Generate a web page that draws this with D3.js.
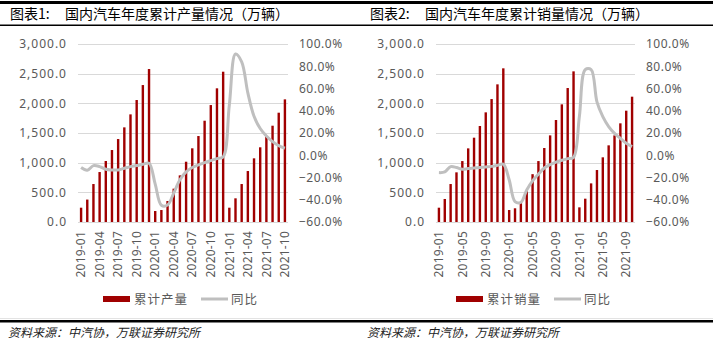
<!DOCTYPE html>
<html>
<head>
<meta charset="utf-8">
<script src="https://cdn.jsdelivr.net/npm/d3@7"></script>
<style>
body { margin: 0; background: #fff; }
svg { display: block; font-family: "Noto Sans", "Noto Sans CJK SC", sans-serif; }
</style>
</head>
<body>
<svg id="canvas" width="713" height="354"></svg>
<script>
// categories, 2019-01 .. 2021-10
var months = [
  "2019-01","2019-02","2019-03","2019-04","2019-05","2019-06","2019-07","2019-08","2019-09","2019-10","2019-11","2019-12",
  "2020-01","2020-02","2020-03","2020-04","2020-05","2020-06","2020-07","2020-08","2020-09","2020-10","2020-11","2020-12",
  "2021-01","2021-02","2021-03","2021-04","2021-05","2021-06","2021-07","2021-08","2021-09","2021-10"
];

// 累计产量 (万辆) and 同比 (%)
var prodValues = [
  241, 378, 640, 842, 1028, 1213, 1398, 1595, 1814, 2056, 2308, 2578,
  185, 202, 354, 562, 786, 1016, 1242, 1449, 1707, 1971, 2253, 2533,
  241, 399, 640, 859, 1073, 1259, 1449, 1623, 1842, 2067
];
var prodYoy = [
  -11.1, -13.5, -9.3, -10.2, -12.6, -13.2, -13.2, -11.7, -10.2, -9.3, -8.1, -7.2,
  -26, -45, -44.7, -34, -22, -15, -11, -8.7, -6.6, -4.8, -3.0, -1.5,
  45, 91, 84, 56, 35, 24, 17.3, 12.3, 8.7, 6.3
];

// 累计销量 (万辆) and 同比 (%)
var salesValues = [
  241, 388, 640, 837, 1027, 1241, 1421, 1618, 1848, 2072, 2320, 2590,
  202, 231, 318, 520, 806, 1027, 1247, 1460, 1719, 1983, 2258, 2539,
  247, 393, 651, 876, 1090, 1292, 1460, 1663, 1876, 2112
];
var salesYoy = [
  -15.6, -15.0, -10.2, -11.0, -12.6, -12.0, -11.5, -11.0, -10.5, -10.0, -9.0, -8.0,
  -22, -41.7, -42.3, -31.2, -23, -17, -11.5, -8.5, -6.2, -4.5, -3.0, -1.9,
  35, 77, 77, 48, 34.7, 25.8, 19.7, 15.2, 10.8, 7.7
];

var leftTicks = [0, 500, 1000, 1500, 2000, 2500, 3000];
var rightTicks = [-60, -40, -20, 0, 20, 40, 60, 80, 100];

var barColor = "#a00000";
var lineColor = "#bfbfbf";
var labelColor = "#595959";

var svg = d3.select("#canvas");

// frame lines
svg.append("rect").attr("x", 0).attr("y", 1).attr("width", 713).attr("height", 3).attr("fill", "#000");
svg.append("rect").attr("x", 0).attr("y", 24.5).attr("width", 713).attr("height", 1.5).attr("fill", "#000");
svg.append("line").attr("x1", 0).attr("x2", 713).attr("y1", 318.5).attr("y2", 318.5)
  .attr("stroke", "#e3e3e3").attr("stroke-width", 1);
svg.append("rect").attr("x", 0).attr("y", 320).attr("width", 713).attr("height", 2.5).attr("fill", "#000");

function drawPanel(opt) {
  var g = svg.append("g");

  // title
  g.append("text").attr("x", opt.titleX).attr("y", 19)
    .style("font-size", "14px").style("font-family", "'Noto Sans CJK SC', sans-serif")
    .text(opt.tag);
  g.append("text").attr("x", opt.titleX + 55).attr("y", 19)
    .style("font-size", "14px").style("font-family", "'Noto Sans CJK SC', sans-serif")
    .text(opt.title);

  var x = d3.scaleBand().domain(months).range([opt.left, opt.right]);
  var yL = d3.scaleLinear().domain([0, 3000]).range([222, 44]);
  var yR = d3.scaleLinear().domain([-60, 100]).range([222, 44]);

  // gridlines
  g.append("g").selectAll("line")
    .data(leftTicks)
    .enter()
    .append("line")
    .attr("x1", opt.left).attr("x2", opt.right)
    .attr("y1", function(d) { return Math.round(yL(d)) + 0.5; })
    .attr("y2", function(d) { return Math.round(yL(d)) + 0.5; })
    .attr("stroke", "#d9d9d9").attr("stroke-width", 1);

  // left axis
  var axL = g.append("g").attr("transform", "translate(" + opt.left + ",0)")
    .call(d3.axisLeft(yL).tickValues(leftTicks).tickFormat(d3.format(",.1f")).tickSize(0).tickPadding(11));
  axL.select(".domain").remove();
  axL.selectAll("text").style("font-size", "12px").style("fill", labelColor).style("letter-spacing", "1px")
    .style("font-family", "'Noto Sans', sans-serif");

  // right axis
  var axR = g.append("g").attr("transform", "translate(" + opt.right + ",0)")
    .call(d3.axisRight(yR).tickValues(rightTicks).tickFormat(function(d) { return d3.format(".1f")(d) + "%"; }).tickSize(0).tickPadding(11));
  axR.select(".domain").remove();
  axR.selectAll("text").style("font-size", "12px").style("fill", labelColor).style("letter-spacing", "0.5px")
    .style("font-family", "'Noto Sans', sans-serif");

  // x axis
  var axX = g.append("g").attr("transform", "translate(0,222)")
    .call(d3.axisBottom(x).tickValues(months.filter(function(m, i) { return i % opt.every == 0; })).tickSize(0));
  axX.select(".domain").remove();
  axX.selectAll("text")
    .attr("x", -9).attr("y", 0).attr("dy", "0.35em")
    .attr("transform", "rotate(-90)")
    .style("text-anchor", "end")
    .style("font-size", "12px").style("fill", labelColor).style("letter-spacing", "0.2px")
    .style("font-family", "'Noto Sans', sans-serif");

  // bars
  var bw = 2.4;
  g.append("g").selectAll("rect")
    .data(opt.values)
    .enter()
    .append("rect")
    .attr("x", function(d, i) { return x(months[i]) + x.bandwidth() / 2 - bw / 2; })
    .attr("y", function(d) { return yL(d); })
    .attr("width", bw)
    .attr("height", function(d) { return yL(0) - yL(d); })
    .attr("fill", barColor);

  // yoy line
  var line = d3.line()
    .x(function(d, i) { return x(months[i]) + x.bandwidth() / 2; })
    .y(function(d) { return yR(d); })
    .curve(d3.curveCatmullRom.alpha(0.5));
  g.append("path").datum(opt.yoy)
    .attr("d", line)
    .attr("fill", "none")
    .attr("stroke", lineColor)
    .attr("stroke-width", 3)
    .attr("stroke-linejoin", "round");

  // legend
  var lx = opt.legendX;
  g.append("rect").attr("x", lx).attr("y", 296).attr("width", 27).attr("height", 6).attr("fill", barColor);
  g.append("text").attr("x", lx + 31).attr("y", 303.5)
    .style("font-size", "12.5px").style("letter-spacing", "1px").style("fill", labelColor)
    .style("font-family", "'Noto Sans CJK SC', sans-serif")
    .text(opt.legendName);
  g.append("line").attr("x1", lx + 98).attr("x2", lx + 125).attr("y1", 299).attr("y2", 299)
    .attr("stroke", lineColor).attr("stroke-width", 3);
  g.append("text").attr("x", lx + 128).attr("y", 303.5)
    .style("font-size", "12.5px").style("letter-spacing", "1px").style("fill", labelColor)
    .style("font-family", "'Noto Sans CJK SC', sans-serif")
    .text("同比");

  // source
  g.append("text").attr("x", opt.sourceX).attr("y", 337)
    .style("font-size", "12px").style("font-style", "italic").style("fill", "#222")
    .style("font-family", "'Noto Sans CJK SC', sans-serif")
    .text("资料来源：中汽协，万联证券研究所");
}

drawPanel({
  tag: "图表1:", title: "国内汽车年度累计产量情况（万辆）", titleX: 10,
  left: 78, right: 288, every: 3,
  values: prodValues, yoy: prodYoy,
  legendX: 103, legendName: "累计产量", sourceX: 8
});

drawPanel({
  tag: "图表2:", title: "国内汽车年度累计销量情况（万辆）", titleX: 370,
  left: 436, right: 635, every: 4,
  values: salesValues, yoy: salesYoy,
  legendX: 456, legendName: "累计销量", sourceX: 367
});
</script>
</body>
</html>
